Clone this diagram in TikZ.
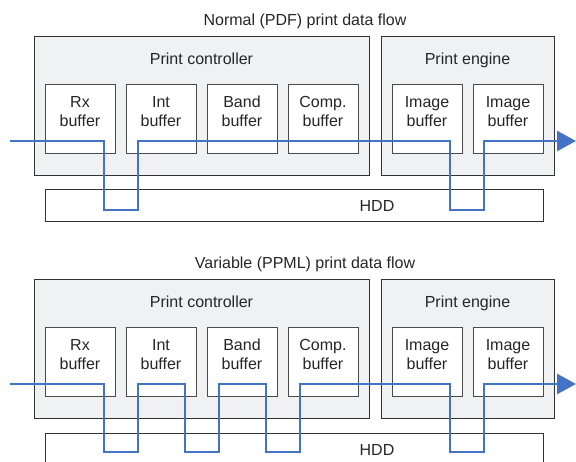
\documentclass[tikz,border=0pt]{standalone}
\usepackage{fontspec}
\setmainfont{Liberation Sans}
\usetikzlibrary{arrows.meta}
\definecolor{flowblue}{HTML}{4472C4}
\definecolor{grpfill}{HTML}{F0F1F3}
\definecolor{edgec}{HTML}{333333}
\definecolor{bufedge}{HTML}{4A4A4A}
\definecolor{txtc}{HTML}{262626}

\newcommand\flowpanel[2]{%
  \node[lbl] (#1title) at (305,26) {#2};
  \node[group, minimum width=335pt, minimum height=139pt] (#1ctrl) at (34,37) {};
  \node[group, minimum width=173pt, minimum height=139pt] (#1eng) at (381,37) {};
  \node[lbl] (#1ctrllbl) at (201.5,65) {Print controller};
  \node[lbl] (#1englbl) at (467.5,65) {Print engine};
  \foreach \n/\x/\t in {rx/45/Rx, int/126/Int, band/207/Band, comp/288/Comp., imga/392/Image, imgb/473/Image}{
    \node[bufbox] (#1\n) at (\x,84) {};
    \node[buftxt] (#1\n txt) at (\x+35,111.5) {\t\\buffer};
  }
  \node[hddbox] (#1hdd) at (45,190) {};
  \node[lbl] (#1hddlbl) at (377,212) {HDD};
  \coordinate (#1in) at (10,141);
  \coordinate (#1out) at (576,141);
}

\begin{document}
\begin{tikzpicture}[x=1pt,y=-1pt,
  group/.style={draw=edgec, fill=grpfill, line width=1pt, anchor=north west, inner sep=0pt, outer sep=0pt},
  bufbox/.style={draw=bufedge, fill=white, line width=0.9pt, anchor=north west, inner sep=0pt, outer sep=0pt, minimum width=70pt, minimum height=69pt},
  hddbox/.style={draw=edgec, fill=white, line width=1pt, anchor=north west, inner sep=0pt, outer sep=0pt, minimum width=498pt, minimum height=32pt},
  lbl/.style={anchor=base, inner sep=0pt, text=txtc, font=\fontsize{16}{19}\selectfont},
  buftxt/.style={anchor=center, inner sep=0pt, align=center, text=txtc, font=\fontsize{16}{19}\selectfont},
  flow/.style={draw=flowblue, line width=2.8pt, -{Triangle[length=19pt,width=20pt]}}
]
\useasboundingbox (0,0) rectangle (576,462);
\clip (0,0) rectangle (576,462);

\flowpanel{a}{Normal (PDF) print data flow}
\draw[flow] (ain) -- (104,141) -- (104,210) -- (138,210) -- (138,141) -- (450,141) -- (450,210) -- (484,210) -- (484,141) -- (aout);

\begin{scope}[yshift=-243pt]
\flowpanel{b}{Variable (PPML) print data flow}
\draw[flow] (bin) -- (104,141) -- (104,209) -- (138,209) -- (138,141) -- (185,141) -- (185,209) -- (219,209) -- (219,141) -- (266,141) -- (266,209) -- (300,209) -- (300,141) -- (450,141) -- (450,209) -- (484,209) -- (484,141) -- (bout);
\end{scope}
\end{tikzpicture}
\end{document}
